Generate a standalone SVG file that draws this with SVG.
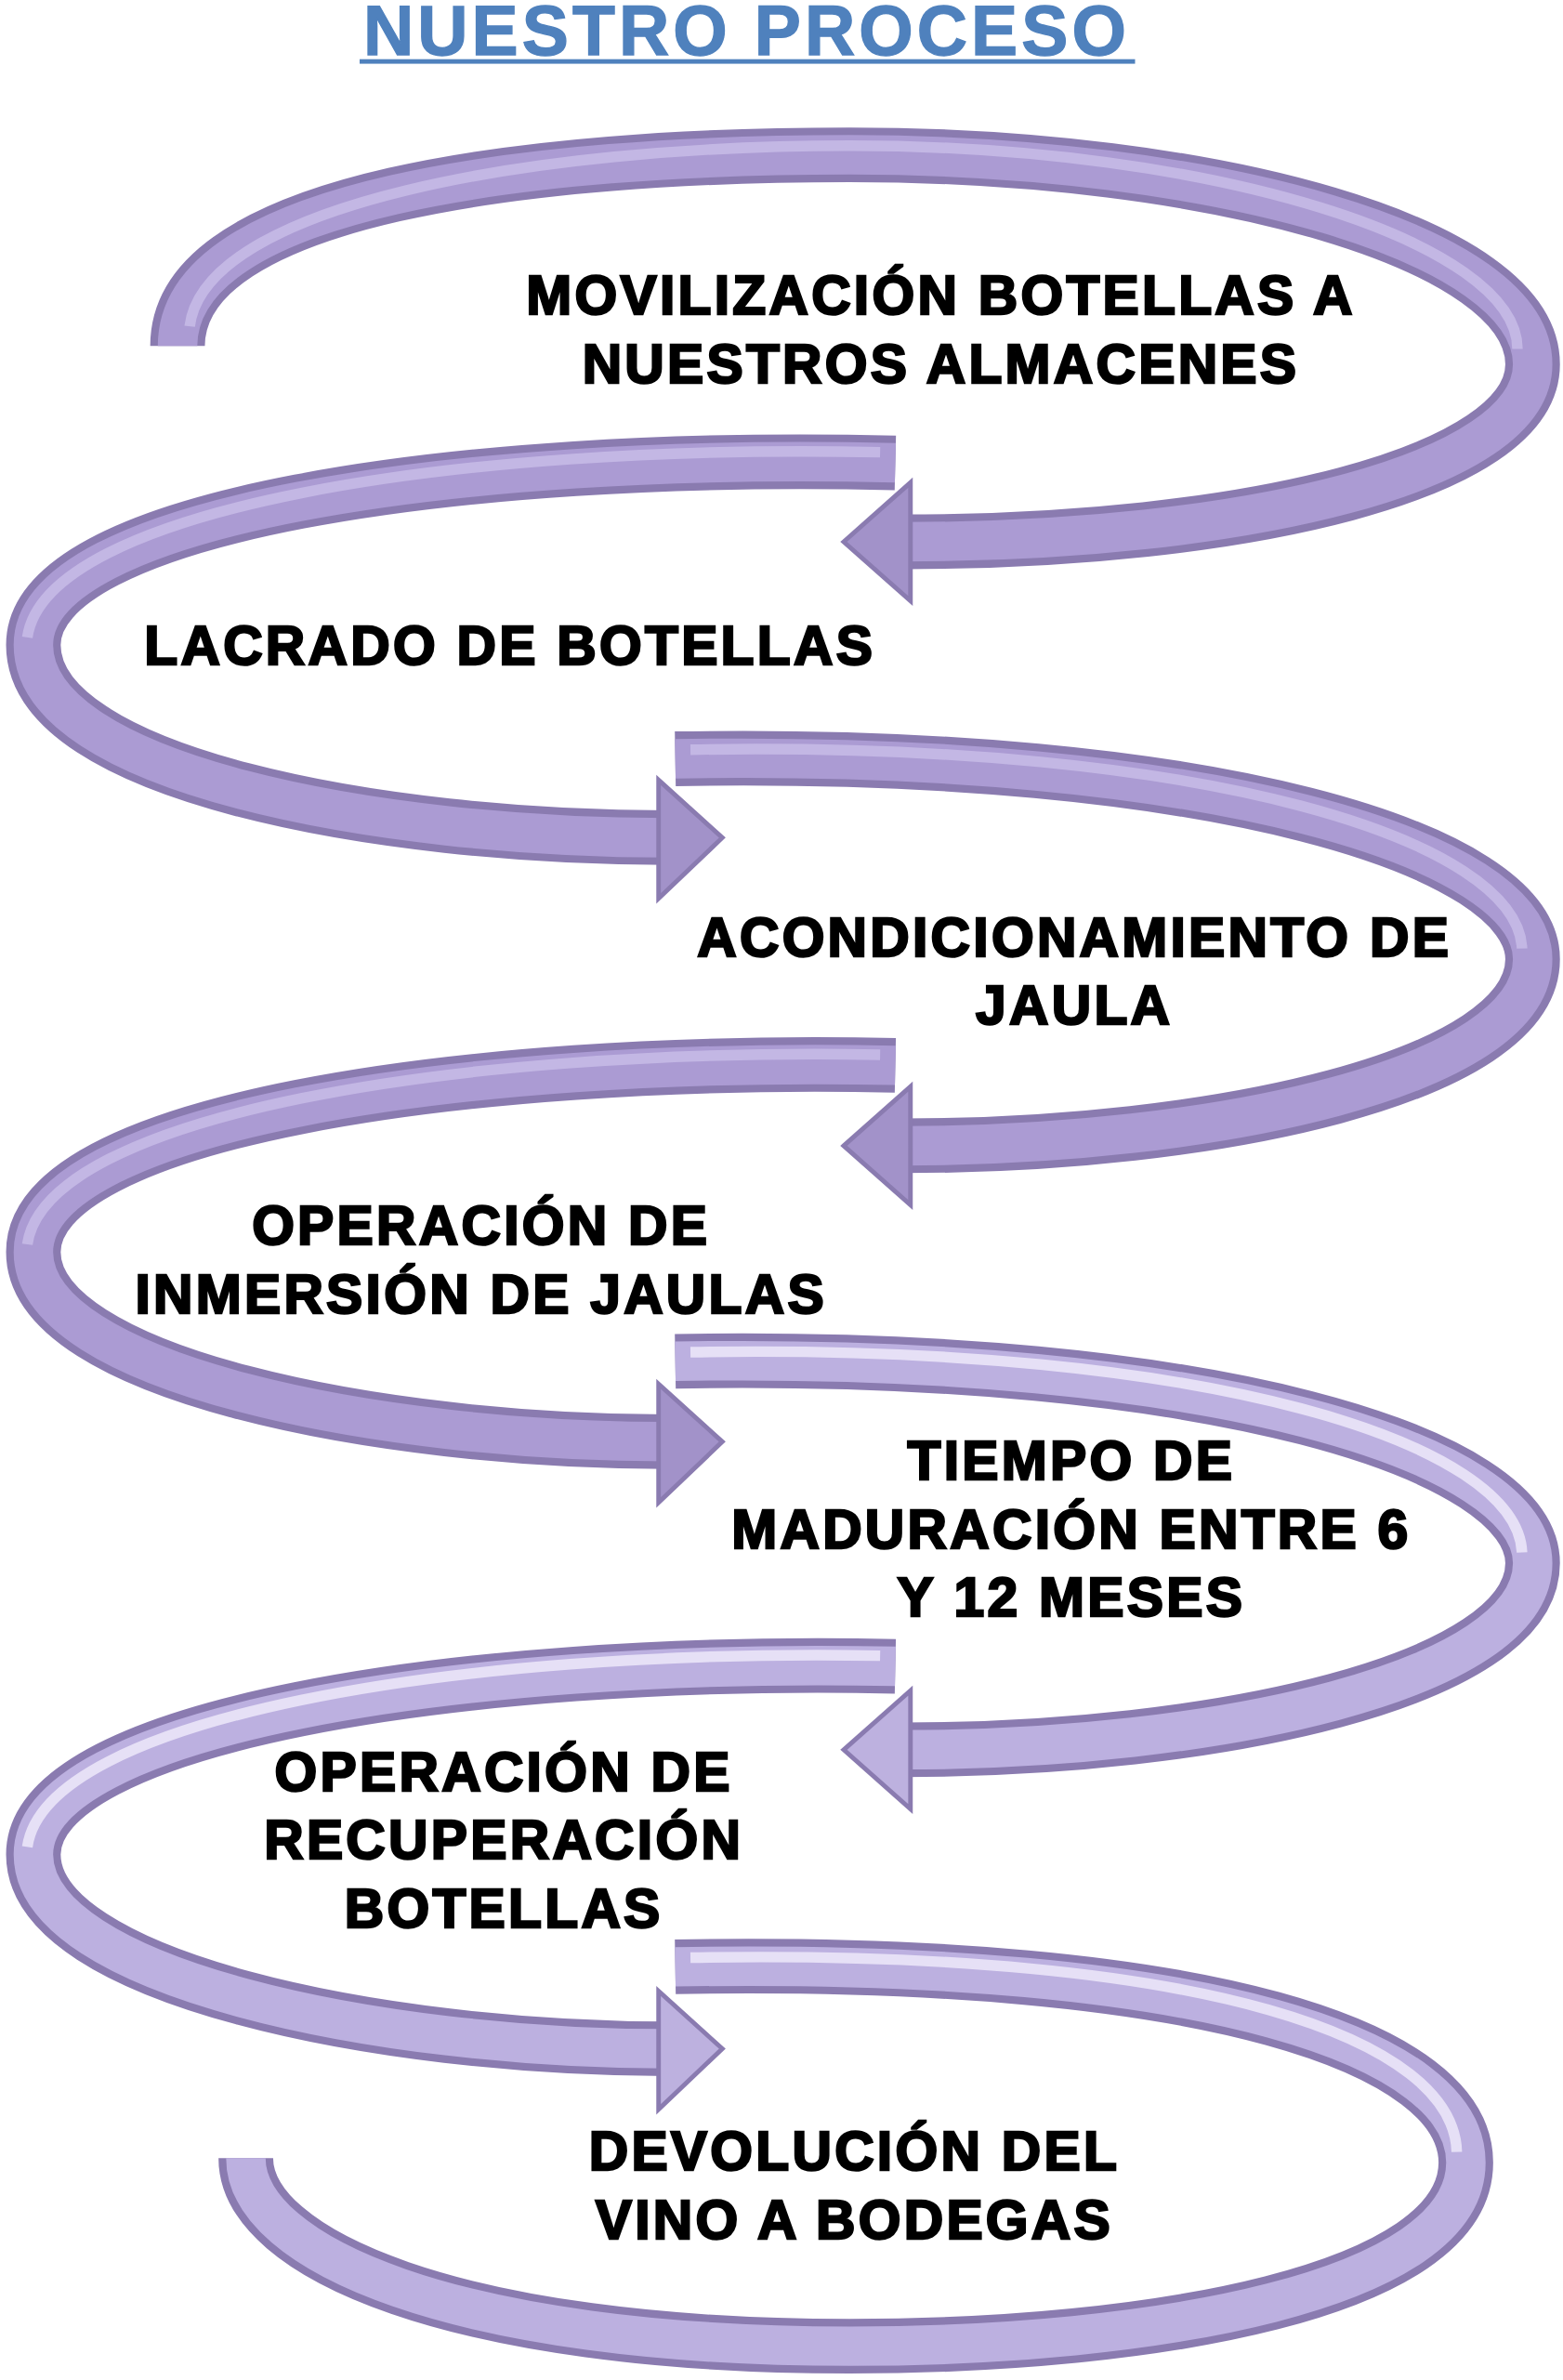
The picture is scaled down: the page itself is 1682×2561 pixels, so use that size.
<svg xmlns="http://www.w3.org/2000/svg" width="1682" height="2561" viewBox="0 0 1682 2561">
<style>
.b{fill:none;stroke:#8a7bb0;stroke-width:36}
.f{fill:none;stroke:#ab9bd3;stroke-width:26}
.h{fill:none;stroke:#c3b7e4;stroke-width:7}
.hd{fill:#a292c9;stroke:#8a7bb0;stroke-width:3}
.l .f{stroke:#bcb0e0}.l .h{stroke:#e6e0f6}.l .hd{fill:#bdb1df}
.t{font-family:"Liberation Sans",Arial,sans-serif;font-weight:bold;font-size:36px;letter-spacing:2px;fill:#000;stroke:#000;stroke-width:1.5;text-anchor:middle}
</style>
<rect width="1682" height="2561" fill="#fff"/>
<g transform="scale(1.633)">
<g id="title"><text x="492" y="36" style="font-family:'Liberation Sans',Arial,sans-serif;font-weight:bold;font-size:46px;letter-spacing:2.5px;fill:#4f81bd;stroke:#4f81bd;stroke-width:0.8;text-anchor:middle">NUESTRO PROCESO</text><rect x="237" y="39" width="511" height="3" fill="#4f81bd"/></g>
<g id="connectors">
<g><path class="b" d="M117,228 C117,130 350,102 560,102 C800,102 1010,160 1010,240 C1010,312 820,357 595,357"/><path class="f" d="M117,228 C117,130 350,102 560,102 C800,102 1010,160 1010,240 C1010,312 820,357 595,357"/><path class="h" d="M125,215 C135,135 350,96 560,96 C800,96 1000,160 1000,230"/><polygon class="hd" points="556,357 600,318 600,396"/></g>
<g><path class="b" d="M590,305 C300,298 22,340 22,425 C22,510 250,552 440,552"/><path class="f" d="M590,305 C300,298 22,340 22,425 C22,510 250,552 440,552"/><path class="h" d="M580,298 C300,292 30,335 18,420"/><polygon class="hd" points="476,552 434,514 434,592"/></g>
<g><path class="b" d="M445,500 C800,494 1010,560 1010,632 C1010,710 800,755 595,755"/><path class="f" d="M445,500 C800,494 1010,560 1010,632 C1010,710 800,755 595,755"/><path class="h" d="M455,494 C800,488 1000,555 1003,625"/><polygon class="hd" points="556,755 600,716 600,794"/></g>
<g><path class="b" d="M590,702 C300,696 22,740 22,825 C22,905 250,950 440,950"/><path class="f" d="M590,702 C300,696 22,740 22,825 C22,905 250,950 440,950"/><path class="h" d="M580,695 C300,690 30,735 18,820"/><polygon class="hd" points="476,950 434,912 434,990"/></g>
<g class="l"><path class="b" d="M445,897 C800,891 1010,958 1010,1030 C1010,1108 800,1153 595,1153"/><path class="f" d="M445,897 C800,891 1010,958 1010,1030 C1010,1108 800,1153 595,1153"/><path class="h" d="M455,891 C800,885 1000,952 1003,1023"/><polygon class="hd" points="556,1153 600,1114 600,1192"/></g>
<g class="l"><path class="b" d="M590,1098 C300,1092 22,1138 22,1222 C22,1303 250,1350 440,1350"/><path class="f" d="M590,1098 C300,1092 22,1138 22,1222 C22,1303 250,1350 440,1350"/><path class="h" d="M580,1091 C300,1086 30,1132 18,1217"/><polygon class="hd" points="476,1350 434,1312 434,1390"/></g>
<g class="l"><path class="b" d="M445,1296 C800,1290 966,1350 966,1425 C966,1510 760,1546 560,1546 C300,1546 162,1485 162,1422"/><path class="f" d="M445,1296 C800,1290 966,1350 966,1425 C966,1510 760,1546 560,1546 C300,1546 162,1485 162,1422"/><path class="h" d="M455,1290 C800,1284 958,1345 960,1418"/></g>
</g>
<g id="n1"><text class="t" x="620" y="207">MOVILIZACIÓN BOTELLAS A</text><text class="t" x="620" y="252">NUESTROS ALMACENES</text></g>
<g id="n2"><text class="t" x="336" y="438">LACRADO DE BOTELLAS</text></g>
<g id="n3"><text class="t" x="708" y="630">ACONDICIONAMIENTO DE</text><text class="t" x="708" y="675">JAULA</text></g>
<g id="n4"><text class="t" x="317" y="820">OPERACIÓN DE</text><text class="t" x="317" y="865">INMERSIÓN DE JAULAS</text></g>
<g id="n5"><text class="t" x="706" y="975">TIEMPO DE</text><text class="t" x="706" y="1020">MADURACIÓN ENTRE 6</text><text class="t" x="706" y="1065">Y 12 MESES</text></g>
<g id="n6"><text class="t" x="332" y="1180">OPERACIÓN DE</text><text class="t" x="332" y="1225">RECUPERACIÓN</text><text class="t" x="332" y="1270">BOTELLAS</text></g>
<g id="n7"><text class="t" x="563" y="1430">DEVOLUCIÓN DEL</text><text class="t" x="563" y="1475">VINO A BODEGAS</text></g>
</g>
</svg>
